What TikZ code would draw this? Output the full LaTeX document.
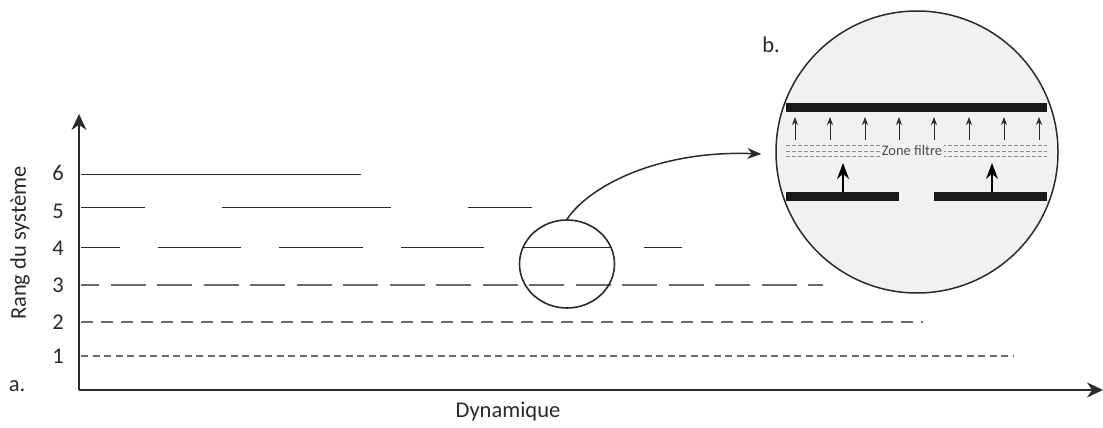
\documentclass[tikz,border=0pt]{standalone}
\usepackage{fontspec}
\setmainfont{Carlito}
\usetikzlibrary{arrows.meta,shapes.geometric}
\definecolor{lineA}{HTML}{2A2A2A}
\definecolor{lineG}{HTML}{6A6A6A}
\definecolor{bubble}{HTML}{F0F1F3}
\tikzset{
  axis/.style={line width=2.3pt, draw=lineA, -{Stealth[length=16pt,width=15pt]}},
  lvl/.style={line width=1.0pt, draw=lineA},
  lvlthree/.style={line width=1.1pt, draw=lineG, dash pattern=on 35pt off 11.5pt, dash phase=17pt},
  lvltwo/.style={line width=1.8pt, draw=lineG, dash pattern=on 12pt off 8pt},
  lvlone/.style={line width=1.2pt, draw=lineG, dash pattern=on 7pt off 4.5pt},
  lab/.style={font=\fontsize{22.5}{24}\selectfont, text=lineA, inner sep=0pt},
  bar/.style={fill=black!90, draw=none},
  smallarr/.style={line width=0.9pt, draw=lineA, -{Stealth[length=8pt,width=6pt]}},
  bigarr/.style={line width=2pt, draw=black, -{Stealth[length=16pt,width=12pt]}},
  zone/.style={line width=0.7pt, draw=black!45, dash pattern=on 4pt off 2pt},
}
\begin{document}
\begin{tikzpicture}[x=1pt,y=-1pt]
\useasboundingbox (0,0) rectangle (1103,428);
% axes
\coordinate (O) at (79,390);
\coordinate (Ytop) at (79,114);
\coordinate (Xend) at (1103,390);
\draw[axis] (O) -- (Ytop);
\draw[axis] (O) -- (Xend);
% labels
\node[lab, rotate=90] (ylab) at (20,243) {Rang du système};
\node[lab] (xlab) at (508,412) {Dynamique};
\node[lab] (a) at (17,386) {a.};
\node[lab] (b) at (771,45) {b.};
\node[lab] (t6) at (58,173) {6};
\node[lab] (t5) at (58,211) {5};
\node[lab] (t4) at (58,248) {4};
\node[lab] (t3) at (58,285) {3};
\node[lab] (t2) at (58,322) {2};
\node[lab] (t1) at (58,356) {1};
% level 6
\draw[lvl] (81,174) -- (361,174);
% level 5
\draw[lvl] (81,207) -- (145,207);
\draw[lvl] (222,207) -- (391,207);
\draw[lvl] (468,207) -- (532,207);
% level 4
\draw[lvl] (81,247) -- (120,247);
\draw[lvl] (158,247) -- (241,247);
\draw[lvl] (279,247) -- (363,247);
\draw[lvl] (401,247) -- (484,247);
\draw[lvl] (523,247) -- (610,247);
\draw[lvl] (644,247) -- (682,247);
% level 3
\draw[lvlthree] (81,285) -- (823,285);
% level 2
\draw[lvltwo] (81,322) -- (923,322);
% level 1
\draw[lvlone] (81,356) -- (1014,356);
% small circle
\node[draw=lineA, line width=1.6pt, ellipse, minimum width=95pt, minimum height=88pt, inner sep=0pt] (zA) at (567,264) {};
% big circle
\node[draw=lineA, fill=bubble, line width=1.5pt, circle, minimum size=282pt, inner sep=0pt] (zB) at (917,152) {};
% connector
\draw[line width=1.5pt, draw=lineA, -{Stealth[length=14pt,width=11pt]}] (zA.north) .. controls (590,185) and (660,150) .. ([xshift=-14pt,yshift=-2pt]zB.west);
% bars
\fill[bar] (786,102.5) rectangle (1047,111.5);
\fill[bar] (786,191.5) rectangle (899,200.5);
\fill[bar] (934,191.5) rectangle (1047,200.5);
% small arrows
\foreach \i/\xx in {1/795,2/830,3/865,4/899,5/934,6/969,7/1004,8/1039}{
  \coordinate (sa\i) at (\xx,140);
  \coordinate (sb\i) at (\xx,117);
  \draw[smallarr] (sa\i) -- (sb\i);
}
% big arrows
\coordinate (ba1) at (843,192);
\coordinate (bb1) at (843,163);
\coordinate (ba2) at (992,192);
\coordinate (bb2) at (992,163);
\draw[bigarr] (ba1) -- (bb1);
\draw[bigarr] (ba2) -- (bb2);
% zone filtre
\draw[zone] (786,145) -- (1047,145);
\draw[zone] (786,151) -- (1047,151);
\draw[zone] (786,156) -- (1047,156);
\node[fill=bubble, inner sep=1.5pt, font=\fontsize{14.5}{15}\selectfont, text=black!70] (zf) at (912,151) {Zone filtre};
\end{tikzpicture}
\end{document}
